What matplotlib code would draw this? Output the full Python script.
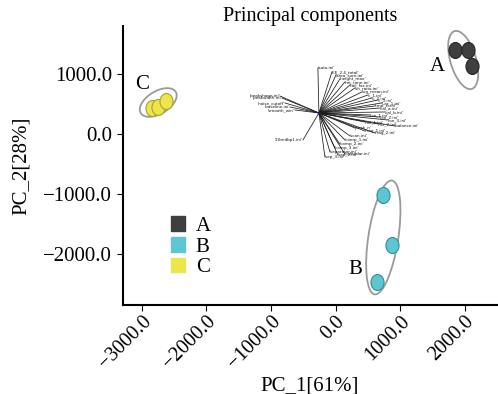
import matplotlib
matplotlib.use("Agg")
import matplotlib.pyplot as plt
from matplotlib.patches import Ellipse, Patch
from matplotlib.markers import MarkerStyle
from matplotlib.transforms import Affine2D

plt.rcParams['font.family'] = ['Liberation Serif', 'DejaVu Serif']

# sample scores
groups = ["A", "B", "C"]
pc1_A = [1844, 2045, 2107]
pc2_A = [1400, 1400, 1133]
pc1_B = [731, 870, 638]
pc2_B = [-1017, -1850, -2467]
pc1_C = [-2839, -2747, -2623]
pc2_C = [433, 450, 550]

# loading arrows (origin + tips, already scaled)
origin = (-258, 350)
load_x = [-861, -830, -784, -707, -629, -274, -57, 5, 66, 144, 221, 298, 406, 499,
          561, 654, 716, 607, 685, 762, 530, 685, 808, 453, 654, 917, 298, 453,
          607, 221, 144, 66, -11, -88, 35, -165, 144, -505]
load_y = [633, 600, 517, 450, 400, 1100, 1033, 983, 917, 867, 817, 767, 700, 650,
          600, 567, 517, 467, 433, 367, 317, 283, 233, 200, 167, 133, 100, 50,
          17, -33, -100, -167, -233, -300, -350, -383, -333, -100]
load_names = ["'peakshape.ini'", "'peakwidth.ini'", "'noise_cutoff'", "'baseline.ini'",
              "'smooth_win'", "'auto.ini'", "'EE_2.4_total'", "'area_sum.ini'",
              "'height_max'", "'ret_time.ini'", "'tail_fac.ini'", "'sn_ratio.ini'",
              "'sig_mean.ini'", "'c_1.ini'", "'c_2.ini'", "'c_3.ini'", "'Lar_1.ini'",
              "'tmp_rt.ini'", "'cal_a.ini'", "'cal_b.ini'", "'ion_1.ini'", "'ion_2.ini'",
              "'ion_3.ini'", "'mz_1.ini'", "'mz_2.ini'", "'balance.ini'", "'peak_n'",
              "'frag_1.ini'", "'frag_2.ini'", "'scan.ini'", "'comp_1.ini'", "'comp_2.ini'",
              "'comp_3.ini'", "'separator.ini'", "'sep_2.ini'", "'sep_3.ini'",
              "'calendar.ini'", "'20mdbp1.ini'"]

ell_A = (1976, 1233, 400, 1000, 15)
ell_B = (739, -1725, 464, 1917, -8)
ell_C = (-2747, 525, 649, 367, 35)

col_A, edge_A = "#3f3f3f", "#262626"
col_B, edge_B = "#5cc6d2", "#2f8f9a"
col_C, edge_C = "#ece54c", "#a9a22a"

fig = plt.figure(figsize=(4.98, 3.94), dpi=100)
ax = fig.add_axes([0.246, 0.226, 0.752, 0.708])

# loadings
for x, y, name in zip(load_x, load_y, load_names):
    ax.plot([origin[0], x], [origin[1], y], color="#1a1a1a", lw=0.55, zorder=1)
    ha = "right" if x < origin[0] - 100 else "left"
    ax.text(x, y, name, fontsize=3.0, ha=ha, va="center", color="#111111",
            family="DejaVu Sans", zorder=2)
ax.plot(origin[0], origin[1], marker="o", ms=1.5, color="#202060", zorder=3)

for (cx, cy, w, h, a) in [ell_A, ell_B, ell_C]:
    ax.add_patch(Ellipse((cx, cy), w, h, angle=a, fill=False, ec="#9a9a9a",
                         lw=1.3, zorder=2))

oval = MarkerStyle("o", transform=Affine2D().scale(0.82, 1.0))
ax.plot(pc1_A, pc2_A, ls="none", marker=oval, ms=11.5, color=col_A, mec=edge_A, mew=0.8, zorder=4)
ax.plot(pc1_B, pc2_B, ls="none", marker=oval, ms=11.5, color=col_B, mec=edge_B, mew=0.8, zorder=4)
ax.plot(pc1_C, pc2_C, ls="none", marker=oval, ms=11.5, color=col_C, mec=edge_C, mew=0.8, zorder=4)

ax.text(1570, 1117, "A", fontsize=15, ha="center", va="center")
ax.text(298, -2267, "B", fontsize=15, ha="center", va="center")
ax.text(-2995, 833, "C", fontsize=15, ha="center", va="center")

ax.set_xlim(-3300, 2500)
ax.set_ylim(-2850, 1800)
ax.set_xticks([-3000, -2000, -1000, 0, 1000, 2000])
ax.set_yticks([-2000, -1000, 0, 1000])
ax.set_xticklabels(["\u22123000.0", "\u22122000.0", "\u22121000.0", "0.0", "1000.0", "2000.0"],
                   rotation=45, ha="right", rotation_mode="anchor")
ax.set_yticklabels(["\u22122000.0", "\u22121000.0", "0.0", "1000.0"])
ax.tick_params(axis="y", labelsize=15, length=4, width=0.8, direction="out")
ax.tick_params(axis="x", labelsize=14.5, length=4, width=0.8, direction="out", pad=1)
ax.spines["top"].set_visible(False)
ax.spines["right"].set_visible(False)
ax.spines["left"].set_linewidth(1.5)
ax.spines["bottom"].set_linewidth(1.5)

ax.set_title("Principal components", fontsize=14.5, pad=1)
ax.set_xlabel("PC_1[61%]", fontsize=15)
ax.xaxis.set_label_coords(0.5, -0.255)
ax.set_ylabel("PC_2[28%]", fontsize=15)
ax.yaxis.set_label_coords(-0.245, 0.5)

handles = [Patch(color=col_A), Patch(color=col_B), Patch(color=col_C)]
ax.legend(handles, groups, loc="upper left", bbox_to_anchor=(0.09, 0.37),
          frameon=False, fontsize=15, handlelength=0.7, handleheight=0.7,
          handletextpad=0.5, labelspacing=0.05, borderpad=0.2)

fig.savefig("out.png", dpi=100)
